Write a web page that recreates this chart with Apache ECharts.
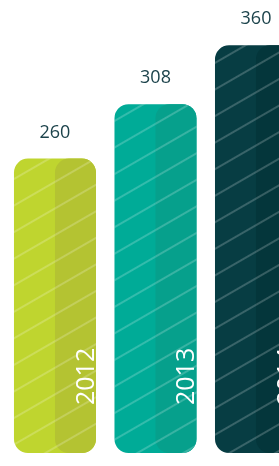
<!DOCTYPE html>
<html>
<head>
<meta charset="utf-8">
<script src="https://cdn.jsdelivr.net/npm/echarts@6/dist/echarts.min.js"></script>
<style>
  html, body { margin: 0; padding: 0; background: #fff; }
  #chart-container { width: 279px; height: 466px; }
</style>
</head>
<body>
<div id="chart-container"></div>
<script>
var years = ['2012', '2013', '2014'];
var values = [260, 308, 360];
var mainColors = ['#bfd52f', '#00ab97', '#073d43'];
var shadeColors = ['#b4c332', '#06a08c', '#04363b'];

var chartDom = document.getElementById('chart-container');
var myChart = echarts.init(chartDom);

var stripes = {
  symbol: 'rect',
  symbolSize: 1,
  dashArrayX: [1, 0],
  dashArrayY: [1.5, 21],
  rotation: -Math.PI / 6,
  color: 'rgba(255,255,255,0.2)'
};

// bars sit at positions 0,1,2 on a hidden value axis so the third one runs off the edge
var option = {
  animation: false,
  grid: { left: 0, top: 0, bottom: 13, right: 0 },
  xAxis: {
    type: 'value',
    min: -0.547,
    max: 2.229,
    show: false
  },
  yAxis: {
    type: 'value',
    min: 0,
    max: 400,
    show: false
  },
  series: [
    {
      type: 'bar',
      barWidth: 82,
      barGap: '-50%',
      data: values.map(function (v, i) {
        return { value: [i, v], itemStyle: { color: mainColors[i] } };
      }),
      itemStyle: { borderRadius: 14, decal: stripes },
      label: {
        show: true,
        position: 'top',
        distance: 17,
        fontSize: 18,
        fontFamily: 'Open Sans',
        color: '#1c434b',
        formatter: function (p) { return values[p.dataIndex]; }
      }
    },
    {
      type: 'bar',
      barWidth: 41,
      data: values.map(function (v, i) {
        return { value: [i, v], itemStyle: { color: shadeColors[i] } };
      }),
      itemStyle: { borderRadius: 14, decal: stripes },
      label: {
        show: true,
        position: 'insideBottom',
        distance: 48,
        rotate: 90,
        align: 'left',
        verticalAlign: 'middle',
        offset: [0, 11],
        fontSize: 25,
        fontFamily: 'Open Sans',
        color: '#ffffff',
        formatter: function (p) { return years[p.dataIndex]; }
      }
    }
  ]
};

option && myChart.setOption(option);
</script>
</body>
</html>
